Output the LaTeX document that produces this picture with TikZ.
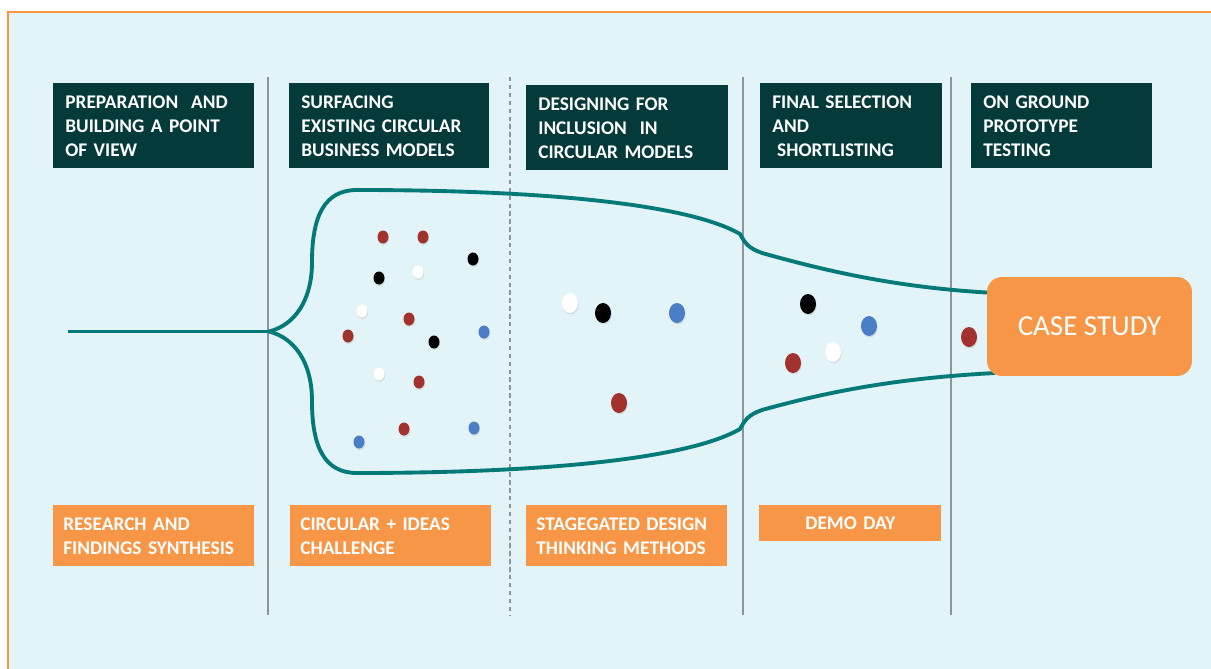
\documentclass[tikz,border=0pt]{standalone}
\usepackage{fontspec}
\setmainfont{Carlito}
\usetikzlibrary{shadows}
\definecolor{bgblue}{HTML}{E2F4F7}
\definecolor{frameorange}{HTML}{F79646}
\definecolor{boxdark}{HTML}{043A3A}
\definecolor{boxorange}{HTML}{F79646}
\definecolor{funnelteal}{HTML}{047A78}
\definecolor{sepgrey}{HTML}{8D959A}
\definecolor{dotred}{HTML}{A2322E}
\definecolor{dotblue}{HTML}{4A7EC6}
\begin{document}
\begin{tikzpicture}[x=0.02cm,y=-0.02cm,
  phase/.style={fill=boxdark, text=white, anchor=north west, align=left, inner xsep=0.24cm, inner ysep=0pt,
    minimum height=1.7cm, text width=3.54cm, font=\bfseries\fontsize{11}{13.6}\selectfont},
  activity/.style={fill=boxorange, text=white, anchor=north west, align=left, inner xsep=0.2cm, inner ysep=0pt,
    minimum height=1.22cm, text width=3.62cm, font=\bfseries\fontsize{11}{13.6}\selectfont},
  funnel/.style={draw=funnelteal, line width=2.2pt},
  divider/.style={draw=sepgrey, line width=0.9pt},
  dot/.style={drop shadow={shadow xshift=0.4pt, shadow yshift=-0.8pt, opacity=0.2}}]
\useasboundingbox (0,0) rectangle (1211,669);
\clip (0,0) rectangle (1211,669);
\fill[white] (0,0) rectangle (1211,669);
\draw[frameorange, fill=bgblue, line width=1.1pt] (8,12) rectangle (1240,700);

\foreach \x in {268,743,951}
  \draw[divider] (\x,77) -- (\x,615);
\draw[divider, dash pattern=on 2.5pt off 2pt] (510,77) -- (510,615);

\node[phase] (prep) at (53,83) {PREPARATION\ \ AND\\BUILDING A POINT\\OF VIEW};
\node[phase, text width=3.52cm] (surf) at (289,83) {SURFACING\\EXISTING CIRCULAR\\BUSINESS MODELS};
\node[phase, text width=3.56cm] (design) at (526,85) {DESIGNING FOR\\INCLUSION\ \ IN\\CIRCULAR MODELS};
\node[phase, text width=3.16cm] (final) at (760,83) {FINAL SELECTION\\AND\\\hspace*{0.25em}SHORTLISTING};
\node[phase, text width=3.14cm] (ground) at (971,83) {ON GROUND\\PROTOTYPE\\TESTING};

\node[activity] (research) at (53,505) {RESEARCH AND\\FINDINGS SYNTHESIS};
\node[activity] (challenge) at (290,505) {CIRCULAR + IDEAS\\CHALLENGE};
\node[activity] (methods) at (526,505) {STAGEGATED DESIGN\\THINKING METHODS};
\node[activity, align=center, text width=3.24cm, minimum height=0.72cm] (demo) at (759,505) {DEMO DAY};

\coordinate (start) at (68,331.5);
\coordinate (fork) at (269,331.5);
\coordinate (topend) at (995,293);
\coordinate (botend) at (995,373);
\draw[funnel] (start) -- (fork);
\draw[funnel] (fork) .. controls (295,325) and (312,300) .. (312,262)
  .. controls (312,215) and (325,190) .. (357,190)
  .. controls (550,190) and (690,205) .. (740,234)
  .. controls (745,243) and (748,248) .. (762,253)
  .. controls (830,272) and (900,288) .. (topend);
\draw[funnel] (fork) .. controls (295,338) and (312,363) .. (312,401)
  .. controls (312,448) and (325,473) .. (357,473)
  .. controls (550,473) and (690,458) .. (740,429)
  .. controls (745,420) and (748,415) .. (762,410)
  .. controls (830,391) and (900,378) .. (botend);

\foreach \x/\y/\c in {383/237/dotred, 423/237/dotred, 473/259/black, 379/278/black, 418/272/white,
    362/311/white, 409/319/dotred, 348/336/dotred, 484/332/dotblue, 434/342/black, 379/374/white,
    419/382/dotred, 404/429/dotred, 474/428/dotblue, 359/442/dotblue}
  \fill[\c, dot] (\x,\y) ellipse [x radius=5.5, y radius=6.5];
\foreach \x/\y/\c in {570/303/white, 603/313/black, 677/313/dotblue, 619/403/dotred,
    808/304/black, 869/326/dotblue, 833/352/white, 793/363/dotred, 969/337/dotred}
  \fill[\c, dot] (\x,\y) ellipse [x radius=8, y radius=10];

\node[fill=boxorange, text=white, rounded corners=0.3cm, minimum width=4.1cm, minimum height=1.98cm,
  font=\fontsize{16.5}{20}\selectfont] (case) at (1089.5,326.5) {CASE STUDY};
\end{tikzpicture}
\end{document}
